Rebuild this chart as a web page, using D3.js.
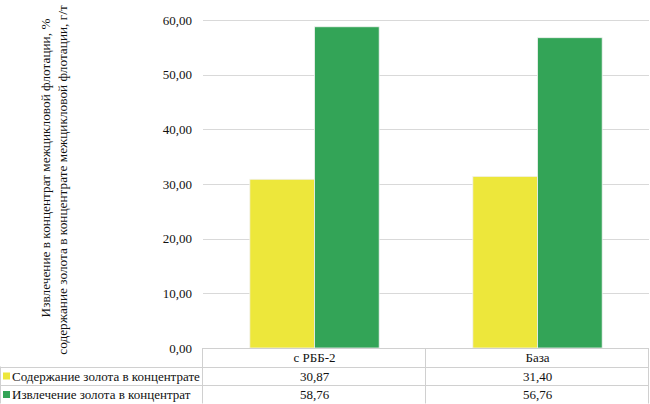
<!DOCTYPE html>
<html>
<head>
<meta charset="utf-8">
<script src="https://cdn.jsdelivr.net/npm/d3@7"></script>
<style>
  html, body { margin: 0; padding: 0; background: #fff; }
  svg { display: block; }
</style>
</head>
<body>
<svg id="chart" width="650" height="404"></svg>
<script>
const categories = ["с РББ-2", "База"];
const seriesNames = ["Содержание золота в концентрате", "Извлечение золота в концентрат"];
const contentValues = [30.87, 31.40];
const recoveryValues = [58.76, 56.76];
const yTicks = [0, 10, 20, 30, 40, 50, 60];
const seriesColors = ["#ede73b", "#33a457"];
const yTitleLines = ["Извлечение в концентрат межцикловой флотации, %",
                     "содержание золота в концентрате межцикловой флотации, г/т"];

(function () {
const FONT = '"Liberation Serif"';
const seriesValues = [contentValues, recoveryValues];
const fmt = v => v.toFixed(2).replace(".", ",");

const svg = d3.select("#chart");
const pLeft = 203, pRight = 649, pTop = 20, pBottom = 348;
const rowH = 18.5;

const y = d3.scaleLinear().domain([0, 60]).range([pBottom, pTop]);
const x = d3.scaleBand().domain(categories).range([pLeft, pRight]).paddingInner(0.42).paddingOuter(0.21);
const xs = d3.scaleBand().domain(d3.range(seriesNames.length)).range([0, x.bandwidth()]);

const txt = (sel) => sel.style("font-family", FONT).style("font-size", "13px").attr("fill", "#111");

// gridlines
svg.append("g").selectAll("line").data(yTicks.filter(d => d > 0)).join("line")
  .attr("x1", pLeft).attr("x2", pRight)
  .attr("y1", d => Math.round(y(d)) + 0.5).attr("y2", d => Math.round(y(d)) + 0.5)
  .attr("stroke", "#d9d9d9").attr("stroke-width", 1);

// y axis labels
const yAxis = d3.axisLeft(y).tickValues(yTicks).tickFormat(fmt).tickSize(0).tickPadding(11);
const ga = svg.append("g").attr("transform", `translate(${pLeft},0)`).call(yAxis);
ga.attr("font-family", null).attr("font-size", null);
ga.select(".domain").remove();
ga.selectAll("text").call(txt);

// bars
categories.forEach((c, ci) => {
  seriesValues.forEach((vals, si) => {
    svg.append("rect")
      .attr("x", x(c) + xs(si))
      .attr("y", y(vals[ci]))
      .attr("width", xs.bandwidth())
      .attr("height", y(0) - y(vals[ci]))
      .attr("fill", seriesColors[si])
      .attr("stroke", "#f2f2f2").attr("stroke-width", 0.8);
  });
});

// y title
const titleCenters = [168, 180];
yTitleLines.forEach((t, i) => {
  svg.append("text")
    .attr("transform", `translate(${50 + i * 16.5},${titleCenters[i]}) rotate(-90)`)
    .attr("text-anchor", "middle")
    .call(txt)
    .style("font-size", "13.3px")
    .text(t);
});

// data table
const tcol = "#d0d0d0";
const tb = svg.append("g");
const rowsY = [pBottom, pBottom + rowH, pBottom + 2 * rowH, pBottom + 3 * rowH];
tb.append("line").attr("x1", pLeft).attr("x2", pRight).attr("y1", rowsY[0] + 0.5).attr("y2", rowsY[0] + 0.5).attr("stroke", tcol);
[1, 2, 3].forEach(i => {
  tb.append("line").attr("x1", 0).attr("x2", pRight).attr("y1", Math.round(rowsY[i]) + 0.5).attr("y2", Math.round(rowsY[i]) + 0.5).attr("stroke", tcol);
});
const colEdges = [pLeft, ...categories.map(c => x(c) + x.bandwidth() / 2 + x.step() / 2)];
colEdges.forEach(xx => {
  const xr = Math.min(Math.round(xx), 649) - 0.5;
  tb.append("line").attr("x1", xr).attr("x2", xr).attr("y1", rowsY[0]).attr("y2", rowsY[3]).attr("stroke", tcol);
});
tb.append("line").attr("x1", 0.5).attr("x2", 0.5).attr("y1", rowsY[1]).attr("y2", rowsY[3]).attr("stroke", tcol);

categories.forEach(c => {
  tb.append("text").attr("x", x(c) + x.bandwidth() / 2).attr("y", rowsY[0] + 14)
    .attr("text-anchor", "middle").call(txt).text(c);
});
seriesNames.forEach((s, si) => {
  const ry = rowsY[si + 1];
  tb.append("rect").attr("x", 3).attr("y", ry + 6).attr("width", 7).attr("height", 7).attr("fill", seriesColors[si]);
  tb.append("text").attr("x", 12).attr("y", ry + 14).call(txt).text(s);
  categories.forEach((c, ci) => {
    tb.append("text").attr("x", x(c) + x.bandwidth() / 2).attr("y", ry + 14)
      .attr("text-anchor", "middle").call(txt).text(fmt(seriesValues[si][ci]));
  });
});
})();
</script>
</body>
</html>
